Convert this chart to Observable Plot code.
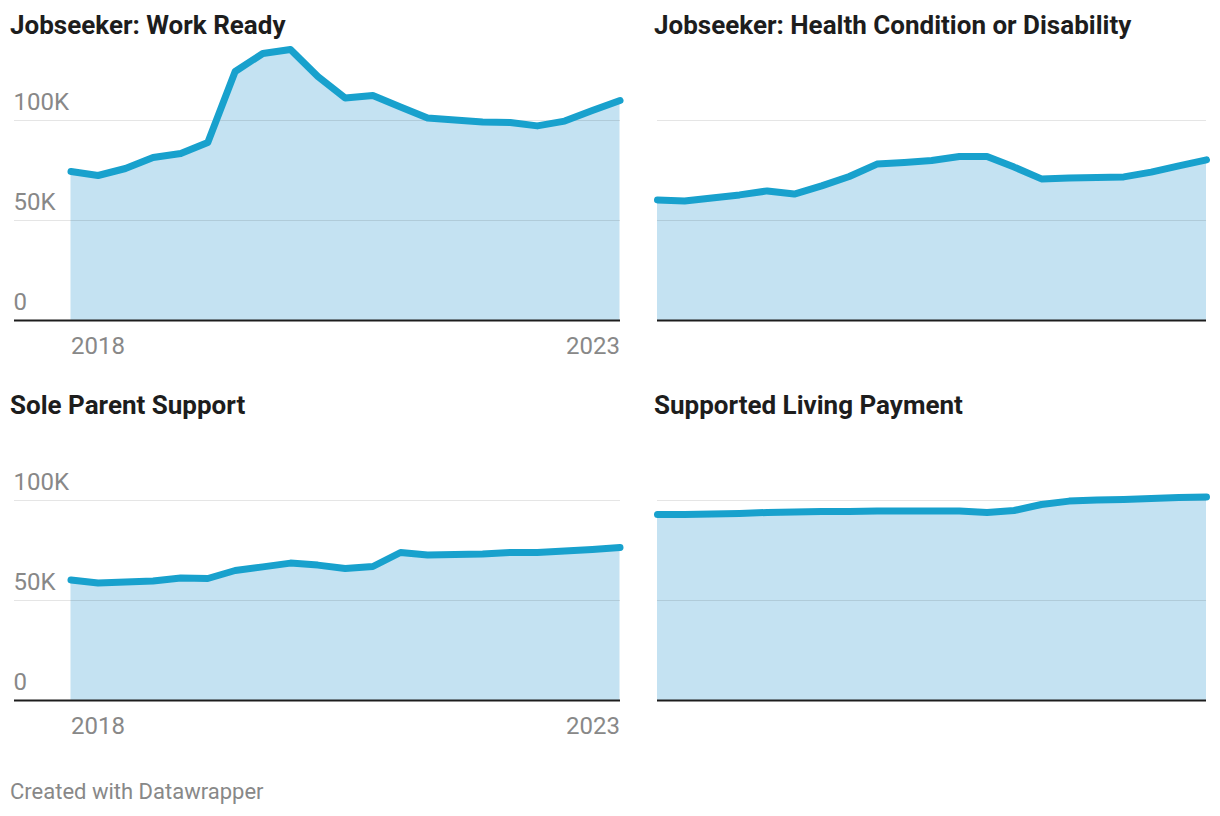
<!DOCTYPE html>
<html>
<head>
<meta charset="utf-8">
<script src="https://cdn.jsdelivr.net/npm/d3@7"></script>
<script src="https://cdn.jsdelivr.net/npm/@observablehq/plot@0.6"></script>
<style>
  body { margin: 0; background: #fff; }
  #root { position: relative; width: 1220px; height: 816px; font-family: Roboto, sans-serif; overflow: hidden; }
  .title { position: absolute; font-weight: 700; font-size: 26px; line-height: 1; color: #1d1d1d; white-space: nowrap; }
  .panel { position: absolute; }
  .panel svg { display: block; overflow: visible; }
  #footer { position: absolute; left: 10px; top: 781px; font-size: 22px; line-height: 1; color: #888; white-space: nowrap; }
</style>
</head>
<body>
<div id="root"></div>
<script>
// Quarterly dates
const dates = [
  "2018-01-01","2018-04-01","2018-07-01","2018-10-01",
  "2019-01-01","2019-04-01","2019-07-01","2019-10-01",
  "2020-01-01","2020-04-01","2020-07-01","2020-10-01",
  "2021-01-01","2021-04-01","2021-07-01","2021-10-01",
  "2022-01-01","2022-04-01","2022-07-01","2022-10-01",
  "2023-01-01"
];

// Series values (number of recipients)
const jobseekerWorkReady = [74500, 72500, 76000, 81500, 83500, 89000, 124500, 133500, 135500, 122000, 111300, 112500, 106800, 101200, 100300, 99300, 99000, 97300, 99700, 105000, 110000];
const jobseekerHealth = [60300, 59700, 61300, 62800, 64800, 63200, 67300, 72000, 78200, 79000, 80000, 82000, 82000, 76700, 70800, 71300, 71500, 71800, 74200, 77300, 80300];
const soleParentSupport = [60300, 58700, 59300, 59800, 61300, 61000, 65000, 66800, 68700, 67700, 66000, 67000, 74000, 72700, 73000, 73300, 74000, 74000, 74700, 75500, 76500];
const supportedLiving = [93000, 93000, 93300, 93500, 94000, 94300, 94500, 94500, 94700, 94700, 94800, 94800, 94000, 95000, 98000, 99700, 100300, 100500, 101000, 101500, 101800];

const titles = ["Jobseeker: Work Ready", "Jobseeker: Health Condition or Disability", "Sole Parent Support", "Supported Living Payment"];
const yTicks = [0, 50000, 100000];
const footerText = "Created with Datawrapper";

const root = document.getElementById("root");

function makePanel(values, title, opts) {
  const t = document.createElement("div");
  t.className = "title";
  t.textContent = title;
  t.style.left = opts.titleLeft + "px";
  t.style.top = opts.titleTop + "px";
  root.appendChild(t);

  const data = dates.map((d, i) => ({date: new Date(d), value: values[i]}));
  const d0 = new Date(dates[0]);
  const d1 = new Date(dates[dates.length - 1]);

  const marks = [
    Plot.areaY(data, {x: "date", y: "value", fill: "#c4e2f2"}),
    Plot.gridY([50000, 100000], {stroke: "#000", strokeOpacity: 0.1, strokeWidth: 1}),
    Plot.lineY(data, {x: "date", y: "value", stroke: "#18a1cd", strokeWidth: 7, strokeLinecap: "round", strokeLinejoin: "round"}),
    Plot.ruleY([0], {stroke: "#1d1d1d", strokeWidth: 2})
  ];
  if (opts.axes) {
    marks.push(
      Plot.axisY(yTicks, {anchor: "left", label: null, tickSize: 0, tickPadding: 0, textAnchor: "start", lineAnchor: "bottom", dx: -1, dy: -11, fontSize: 24, fill: "#888",
        tickFormat: d => d === 0 ? "0" : `${d / 1000}K`}),
      Plot.axisX([d0], {anchor: "bottom", label: null, tickSize: 0, tickPadding: 0, textAnchor: "start", lineAnchor: "top", dy: 16, fontSize: 24, fill: "#888", tickFormat: "%Y"}),
      Plot.axisX([d1], {anchor: "bottom", label: null, tickSize: 0, tickPadding: 0, textAnchor: "end", lineAnchor: "top", dy: 16, fontSize: 24, fill: "#888", tickFormat: "%Y"})
    );
  }

  const chart = Plot.plot({
    width: opts.width,
    height: 330,
    marginTop: 0,
    marginBottom: 50,
    marginLeft: opts.marginLeft,
    marginRight: opts.marginRight,
    x: {type: "utc", domain: [d0, d1], range: opts.xRange, label: null, axis: opts.axes ? undefined : null},
    y: {domain: [0, 140000], label: null, axis: opts.axes ? undefined : null},
    style: {fontFamily: "Roboto, sans-serif", color: "#888", background: "transparent", overflow: "visible"},
    marks
  });
  const wrap = document.createElement("div");
  wrap.className = "panel";
  wrap.style.left = opts.left + "px";
  wrap.style.top = opts.top + "px";
  wrap.appendChild(chart);
  root.appendChild(wrap);
}

const leftOpts = {left: 0, width: 630, marginLeft: 14, marginRight: 10, xRange: [70.5, 619.5], axes: true, titleLeft: 10};
const rightOpts = {left: 640, width: 580, marginLeft: 17, marginRight: 14, xRange: [17, 566], axes: false, titleLeft: 654};

makePanel(jobseekerWorkReady, titles[0], {...leftOpts, top: 40, titleTop: 12});
makePanel(jobseekerHealth, titles[1], {...rightOpts, top: 40, titleTop: 12});
makePanel(soleParentSupport, titles[2], {...leftOpts, top: 420, titleTop: 392});
makePanel(supportedLiving, titles[3], {...rightOpts, top: 420, titleTop: 392});

const f = document.createElement("div");
f.id = "footer";
f.textContent = footerText;
root.appendChild(f);
</script>
</body>
</html>
